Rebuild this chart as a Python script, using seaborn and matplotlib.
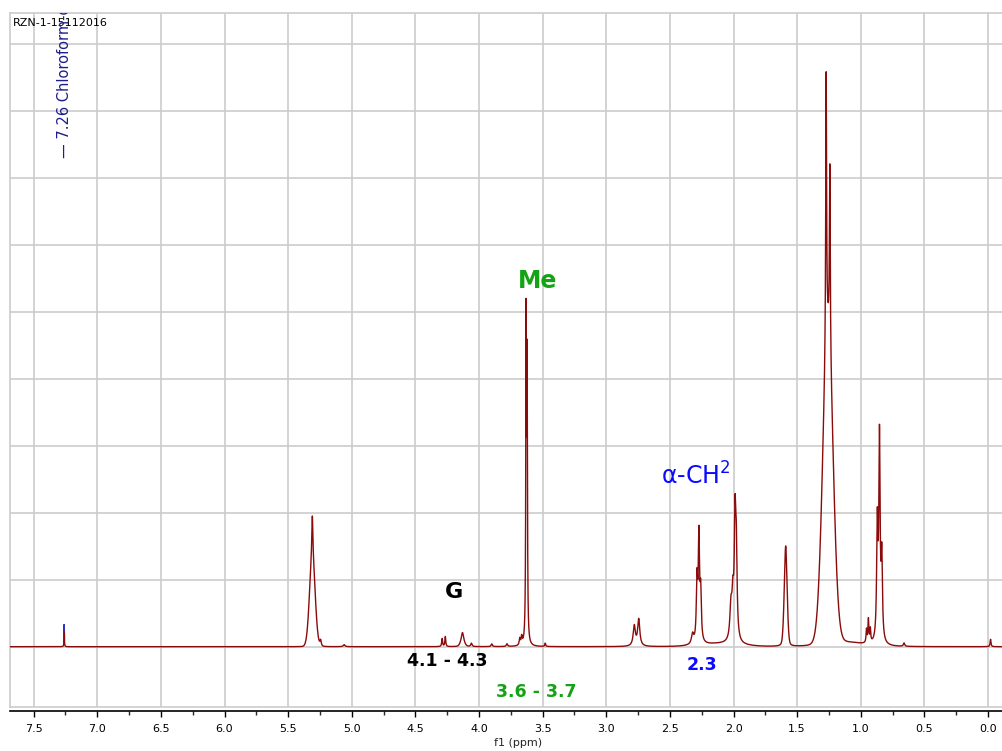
import numpy as np
import pandas as pd
import matplotlib
matplotlib.use("Agg")
import matplotlib.pyplot as plt
from matplotlib.ticker import MultipleLocator
import seaborn as sns

# ---- data (ppm, intensity in grid units) ----
lor_ppm = [7.260, 5.310, 5.245, 5.060, 4.290, 4.265, 4.130, 4.060, 3.900, 3.780,
           3.680, 3.665, 3.630, 3.622, 3.480, 2.780, 2.745, 2.322, 2.287, 2.272,
           2.258, 2.020, 2.005, 1.988, 1.978, 1.590, 1.272, 1.243, 0.955, 0.940,
           0.925, 0.870, 0.853, 0.835, 0.660, -0.020]
lor_height = [0.33, 0.65, 0.09, 0.03, 0.12, 0.15, 0.13, 0.05, 0.04, 0.04,
              0.10, 0.12, 4.70, 4.00, 0.05, 0.30, 0.40, 0.15, 0.90, 1.55,
              0.70, 0.50, 0.55, 1.70, 1.20, 0.50, 4.15, 2.78, 0.20, 0.35,
              0.20, 1.70, 3.00, 1.20, 0.05, 0.11]
lor_width = [0.0015, 0.005, 0.006, 0.008, 0.004, 0.004, 0.010, 0.006, 0.006, 0.006,
             0.005, 0.005, 0.003, 0.003, 0.004, 0.010, 0.010, 0.010, 0.006, 0.006,
             0.006, 0.010, 0.008, 0.007, 0.007, 0.010, 0.004, 0.004, 0.004, 0.004,
             0.004, 0.006, 0.006, 0.006, 0.006, 0.004]
gauss_ppm = [5.310, 1.258, 1.590, 4.130, 2.100, 1.150]
gauss_height = [1.30, 4.60, 1.00, 0.08, 0.04, 0.07]
gauss_sigma = [0.022, 0.040, 0.012, 0.015, 0.150, 0.150]

tick_values = [7.5, 7.0, 6.5, 6.0, 5.5, 5.0, 4.5, 4.0, 3.5, 3.0, 2.5, 2.0, 1.5, 1.0, 0.5, 0.0]
tick_labels = [f"{v:.1f}" for v in tick_values]

# ---- build spectrum from the peak list ----
ppm = np.linspace(7.69, -0.11, 30000)
inten = np.zeros_like(ppm)
for c, h, w in zip(lor_ppm, lor_height, lor_width):
    inten += h * w**2 / (w**2 + (ppm - c) ** 2)
for c, h, s in zip(gauss_ppm, gauss_height, gauss_sigma):
    inten += h * np.exp(-((ppm - c) ** 2) / (2 * s**2))
df = pd.DataFrame({"ppm": ppm, "intensity": inten})
solvent = df[(np.abs(df["ppm"] - 7.26) < 0.01) & (df["intensity"] > 0.22)]

sns.set_style("white")
plt.rcParams["font.family"] = ["DejaVu Sans"]

fig = plt.figure(figsize=(10.02, 7.51), dpi=100)
ax = fig.add_axes([10 / 1002, 1 - 707 / 751, 992 / 1002, 694 / 751])

grid_c = "#cccccc"
for v in tick_values:
    ax.axvline(v, color=grid_c, lw=1.2, zorder=0)
for k in range(0, 10):
    ax.axhline(k, color=grid_c, lw=1.2, zorder=0)

sns.lineplot(data=df, x="ppm", y="intensity", ax=ax, color="#8b0a0a", lw=1.0,
             estimator=None, sort=False, zorder=3)
sns.lineplot(data=solvent, x="ppm", y="intensity", ax=ax, color="#3030c0", lw=1.0,
             estimator=None, sort=False, zorder=4)

ax.set_xlim(7.686, -0.11)
ax.set_ylim(-0.9, 9.46)

for side in ["top", "left"]:
    ax.spines[side].set_color(grid_c)
    ax.spines[side].set_linewidth(1.2)
ax.spines["right"].set_visible(False)
ax.spines["bottom"].set_color("black")
ax.spines["bottom"].set_linewidth(1.2)
ax.spines["bottom"].set_position(("outward", 3))
ax.plot([0, 1], [0, 0], transform=ax.transAxes, color=grid_c, lw=1.2, clip_on=False, zorder=2)

ax.set_xticks(tick_values)
ax.set_xticklabels(tick_labels, fontsize=8)
ax.xaxis.set_minor_locator(MultipleLocator(0.25))
ax.tick_params(axis="x", which="major", direction="out", length=4.5, width=1, pad=5, colors="black", bottom=True)
ax.tick_params(axis="x", which="minor", direction="out", length=3, width=1, bottom=True)
ax.set_yticks([])
ax.set_ylabel("")
ax.set_xlabel("f1 (ppm)", fontsize=8)
ax.xaxis.set_label_coords(0.512, -0.044)

# ---- annotations ----
ax.text(0.003, 0.9856, "RZN-1-15112016", transform=ax.transAxes, fontsize=8,
        ha="left", va="center", color="black", zorder=6)
ax.text(7.26, 7.30, "— 7.26 Chloroform-d", rotation=90, ha="center", va="bottom",
        fontsize=10.5, color="#1c1c8c", clip_on=True, zorder=6)
ax.text(3.543, 5.46, "Me", fontsize=17, fontweight="bold", color="#14a314",
        ha="center", va="center", zorder=6)
ax.text(4.195, 0.82, "G", fontsize=16, fontweight="bold", color="black",
        ha="center", va="center", zorder=6)
ax.text(2.30, 2.55, r"α-CH$^{2}$", fontsize=17, color="#0a0aff",
        ha="center", va="center", zorder=6)
ax.text(4.25, -0.22, "4.1 - 4.3", fontsize=12.5, fontweight="bold", color="black",
        ha="center", va="center", zorder=6)
ax.text(3.55, -0.67, "3.6 - 3.7", fontsize=12.5, fontweight="bold", color="#14a314",
        ha="center", va="center", zorder=6)
ax.text(2.247, -0.27, "2.3", fontsize=12.5, fontweight="bold", color="#0a0aff",
        ha="center", va="center", zorder=6)

fig.savefig("out.png", dpi=100)
